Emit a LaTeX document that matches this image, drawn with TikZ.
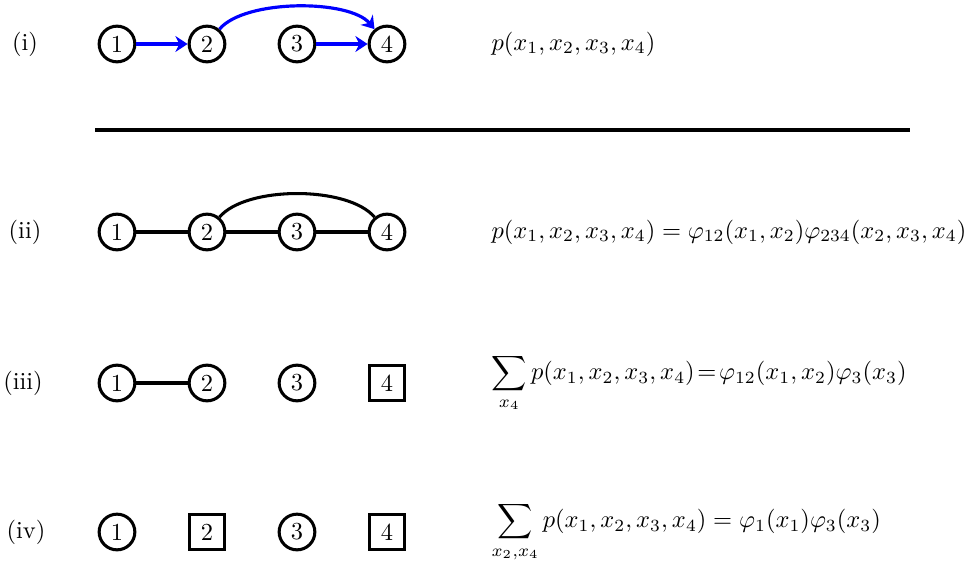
\documentclass[tikz,border=0pt]{standalone}
\usepackage{amsmath,amssymb}
\usepackage{tikz}
\usetikzlibrary{arrows.meta,positioning}

\begin{document}
\begin{tikzpicture}[
  x=0.409pt, y=-0.409pt,
  var/.style={circle, draw, line width=1.25pt, minimum size=14.6pt, inner sep=0pt},
  obs/.style={rectangle, draw, line width=1.25pt, minimum size=14.6pt, inner sep=0pt},
  dir/.style={-{Stealth[length=5pt, width=6.5pt]}, line width=1.3pt, draw=blue},
  und/.style={line width=1.25pt},
  rowlab/.style={anchor=center},
  eq/.style={anchor=west}
]
\useasboundingbox (0,0) rectangle (971,565);
% (i) directed
\node[rowlab] (l1) at (25,44) {(i)};
\node[var] (a1) at (117,44) {1};
\node[var] (a2) at (207,44) {2};
\node[var] (a3) at (297,44) {3};
\node[var] (a4) at (387,44) {4};
\draw[dir] (a1) -- (a2);
\draw[dir] (a3) -- (a4);
\draw[dir] (a2) to[out=50, in=130, looseness=0.65] (a4);
\node[eq] (e1) at (483,44) {$p(x_1,x_2,x_3,x_4)$};
% rule
\coordinate (rl) at (95,130);
\coordinate (rr) at (910,130);
\draw[line width=1.6pt] (rl) -- (rr);
% (ii) undirected
\node[rowlab] (l2) at (25,232) {(ii)};
\node[var] (b1) at (117,232) {1};
\node[var] (b2) at (207,232) {2};
\node[var] (b3) at (297,232) {3};
\node[var] (b4) at (387,232) {4};
\draw[und] (b1) -- (b2);
\draw[und] (b2) -- (b3);
\draw[und] (b3) -- (b4);
\draw[und] (b2) to[out=50, in=130, looseness=0.68] (b4);
\node[eq] (e2) at (483,232) {$p(x_1,x_2,x_3,x_4) = \varphi_{12}(x_1,x_2)\varphi_{234}(x_2,x_3,x_4)$};
% (iii) sum over x4
\node[rowlab] (l3) at (23,383) {(iii)};
\node[var] (c1) at (117,383) {1};
\node[var] (c2) at (207,383) {2};
\node[var] (c3) at (297,383) {3};
\node[obs] (c4) at (387,383) {4};
\draw[und] (c1) -- (c2);
\node[eq] (e3) at (483,383) {$\displaystyle\sum_{x_4} p(x_1,x_2,x_3,x_4)\!=\!\varphi_{12}(x_1,x_2)\varphi_3(x_3)$};
% (iv) sum over x2,x4
\node[rowlab] (l4) at (26,532) {(iv)};
\node[var] (d1) at (117,532) {1};
\node[obs] (d2) at (207,532) {2};
\node[var] (d3) at (297,532) {3};
\node[obs] (d4) at (387,532) {4};
\node[eq] (e4) at (483,532) {$\displaystyle\sum_{x_2,x_4} p(x_1,x_2,x_3,x_4) = \varphi_1(x_1)\varphi_3(x_3)$};
\end{tikzpicture}
\end{document}
